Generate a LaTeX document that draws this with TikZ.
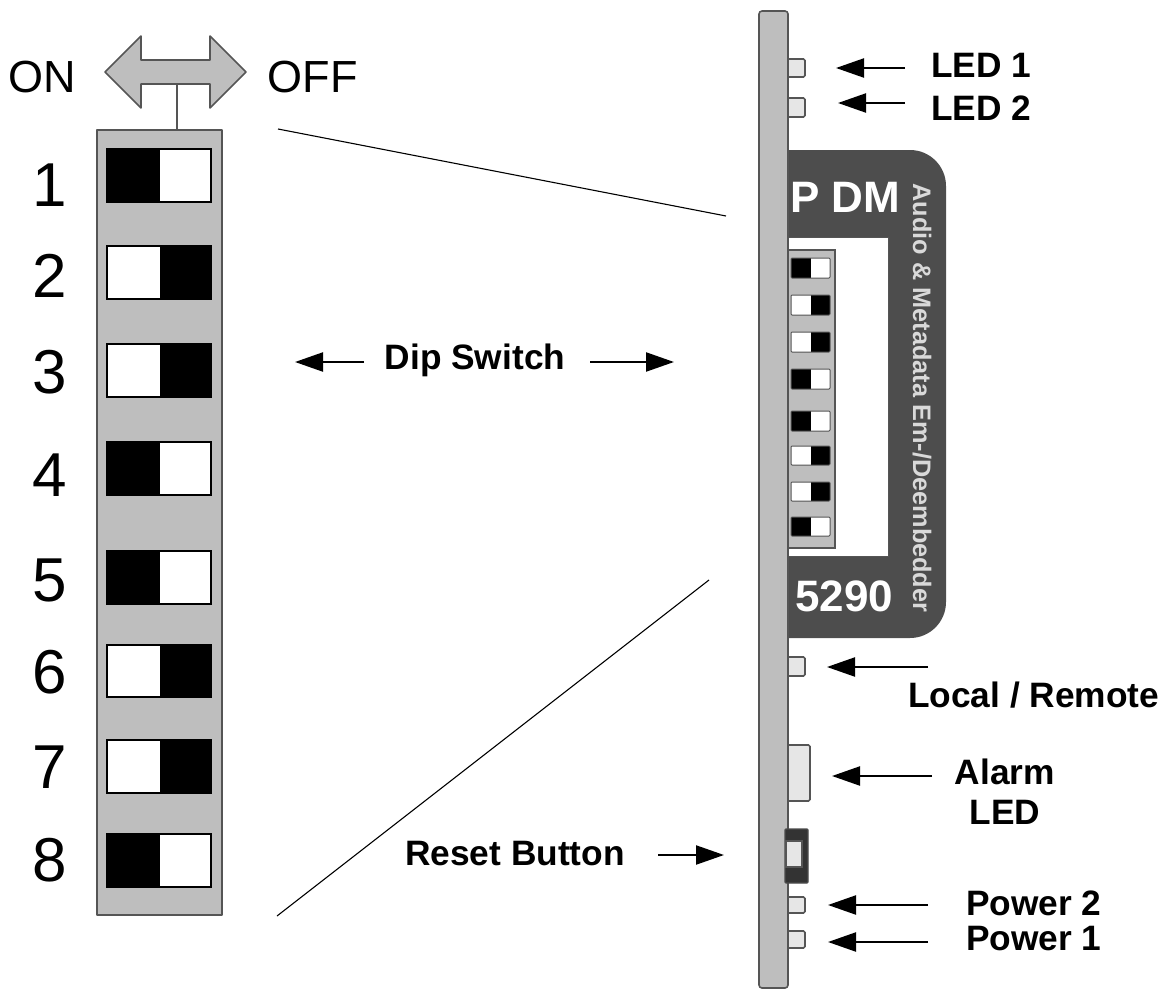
\documentclass[tikz,border=0pt]{standalone}
\usepackage{fontspec}
\setmainfont{Liberation Sans}
\usetikzlibrary{arrows.meta}
\definecolor{bodygray}{HTML}{BEBEBE}
\definecolor{edgegray}{HTML}{555555}
\definecolor{darkpanel}{HTML}{4D4D4D}
\definecolor{ledgray}{HTML}{E6E6E6}
\definecolor{textgray}{HTML}{D9D9D9}
\tikzset{
  grayshape/.style={fill=bodygray,draw=edgegray,line width=1.6pt,line join=round},
  ledbox/.style={fill=ledgray,draw=edgegray,line width=1.6pt,rounded corners=1.5pt},
  callout/.style={draw=black,line width=2.2pt,-{Triangle[length=28pt,width=19pt]},shorten >=0pt},
  thinline/.style={draw=black,line width=1.1pt},
  boldlabel/.style={font=\fontsize{35.3}{40}\selectfont\bfseries,inner sep=0pt,text=black,align=center},
  numlabel/.style={font=\fontsize{62}{64}\selectfont,inner sep=0pt,text=black},
  onoff/.style={font=\fontsize{45}{47}\selectfont,inner sep=0pt,text=black},
  paneltext/.style={font=\fontsize{44}{46}\selectfont\bfseries,inner sep=0pt,text=white},
}
\newcommand{\bigsw}[3]{% top y, bottom y, side of black (0 left, 1 right)
  \fill[white] (107,#1) rectangle (211,#2);
  \ifnum#3=0 \fill[black] (107,#1) rectangle (160,#2);\else \fill[black] (160,#1) rectangle (211,#2);\fi
  \draw[black,line width=1.2pt] (107,#1) rectangle (211,#2);
}
\newcommand{\smallsw}[3]{%
  \fill[white] (791,#1) rectangle (830,#2);
  \ifnum#3=0 \fill[black] (791,#1) rectangle (811,#2);\else \fill[black] (811,#1) rectangle (830,#2);\fi
  \draw[edgegray,line width=1pt,rounded corners=1pt] (791,#1) rectangle (830,#2);
}
\begin{document}
\begin{tikzpicture}[x=1pt,y=-1pt]
\useasboundingbox (0,0) rectangle (1176,990);
% left: enlarged switch
\draw[grayshape] (105,72) -- (141,36) -- (141,60) -- (210,60) -- (210,36) -- (246,72) -- (210,108) -- (210,84) -- (141,84) -- (141,108) -- cycle;
\coordinate (stemtop) at (177,84);
\coordinate (stembot) at (177,130);
\draw[edgegray,line width=1.6pt] (stemtop) -- (stembot);
\draw[grayshape] (97,130) rectangle (222,915);
\bigsw{149}{202}{0}
\bigsw{246}{299}{1}
\bigsw{344}{397}{1}
\bigsw{442}{495}{0}
\bigsw{551}{604}{0}
\bigsw{645}{697}{1}
\bigsw{740}{793}{1}
\bigsw{834}{887}{0}
\node[onoff] (on) at (42.5,77) {ON};
\node[onoff] (off) at (312.5,77) {OFF};
\node[numlabel] (n1) at (50,185) {1};
\node[numlabel] (n2) at (50,276) {2};
\node[numlabel] (n3) at (50,372) {3};
\node[numlabel] (n4) at (50,475) {4};
\node[numlabel] (n5) at (50,580) {5};
\node[numlabel] (n6) at (50,672) {6};
\node[numlabel] (n7) at (50,767) {7};
\node[numlabel] (n8) at (50,860) {8};
% zoom lines
\coordinate (zt1) at (278,129);
\coordinate (zt2) at (726,216);
\coordinate (zb1) at (277,916);
\coordinate (zb2) at (709,580);
\draw[thinline] (zt1) -- (zt2);
\draw[thinline] (zb1) -- (zb2);
% right: board
\fill[darkpanel] (788,150) {[rounded corners=36pt] -- (946,150) -- (946,638)} -- (788,638) -- cycle;
\fill[white] (788,237) rectangle (888,556);
\draw[edgegray,line width=1pt] (788,237) -- (888,237) -- (888,556) -- (788,556);
\draw[fill=bodygray,draw=edgegray,line width=1.2pt] (786,250) -- (835,250) -- (835,548) -- (786,548);
\smallsw{258}{278}{0}
\smallsw{295}{315}{1}
\smallsw{332}{352}{1}
\smallsw{369}{389}{0}
\smallsw{411}{431}{0}
\smallsw{446}{465}{1}
\smallsw{482}{501}{1}
\smallsw{517}{536}{0}
\node[paneltext,anchor=west] (pdm) at (790,197) {P DM};
\node[paneltext,anchor=west] (num) at (795,596) {5290};
\node[rotate=-90,inner sep=0pt,text=textgray,font=\fontsize{25.3}{27}\selectfont\bfseries] (desc) at (922,398) {Audio \& Metadata Em-/Deembedder};
% LEDs etc.
\draw[ledbox] (784,59) rectangle (805,77);
\draw[ledbox] (784,98) rectangle (805,117);
\draw[ledbox] (784,657) rectangle (805,676);
\draw[ledbox] (784,745) rectangle (810,801);
\draw[ledbox] (784,897) rectangle (805,913);
\draw[ledbox] (784,931) rectangle (805,948);
\draw[grayshape,rounded corners=3pt] (759,11) rectangle (788,988);
\draw[fill=black!80,draw=black!70,line width=1.2pt,rounded corners=1pt] (785,829) rectangle (808,883);
\draw[fill=ledgray,draw=edgegray,line width=1.2pt] (786,841) rectangle (802,867);
% labels
\node[boldlabel,anchor=west] (l1) at (931,65) {LED 1};
\node[boldlabel,anchor=west] (l2) at (931,108) {LED 2};
\node[boldlabel,anchor=west] (lr) at (908,695) {Local / Remote};
\node[boldlabel] (al) at (1005,792) {Alarm\\LED};
\node[boldlabel,anchor=west] (rb) at (405,854) {Reset Button};
\node[boldlabel,anchor=west] (p2) at (966,903) {Power 2};
\node[boldlabel,anchor=west] (p1) at (966,939) {Power 1};
\node[boldlabel] (dip) at (475,360) {Dip Switch};
% arrows
\coordinate (a1s) at (905,68); \coordinate (a1e) at (836,68);
\coordinate (a2s) at (905,103); \coordinate (a2e) at (838,103);
\coordinate (a3s) at (928,667); \coordinate (a3e) at (827,667);
\coordinate (a4s) at (932,776); \coordinate (a4e) at (832,776);
\coordinate (a5s) at (658,855); \coordinate (a5e) at (724,855);
\coordinate (a6s) at (928,905); \coordinate (a6e) at (828,905);
\coordinate (a7s) at (928,942); \coordinate (a7e) at (828,942);
\coordinate (a8s) at (364,362); \coordinate (a8e) at (295,362);
\coordinate (a9s) at (590,362); \coordinate (a9e) at (674,362);
\foreach \k in {1,...,9}{\draw[callout] (a\k s) -- (a\k e);}
\end{tikzpicture}
\end{document}
